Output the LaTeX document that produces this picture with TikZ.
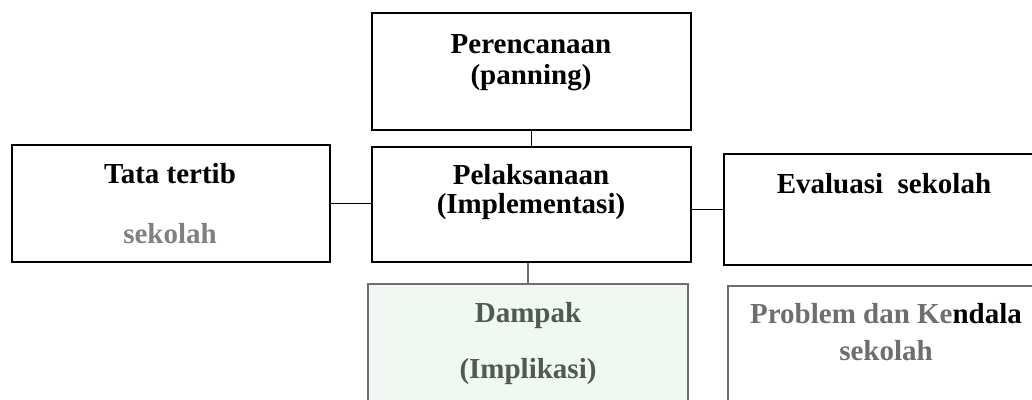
\documentclass[tikz,border=0pt]{standalone}
\usepackage{fontspec}
\setmainfont{Liberation Serif}
\definecolor{lowgray}{HTML}{6E6E6E}
\definecolor{midgray}{HTML}{808080}
\definecolor{dgreen}{HTML}{4E5B53}
\definecolor{mint}{HTML}{F1F7F3}
\begin{document}
\begin{tikzpicture}[x=1pt,y=-1pt,
  box/.style={draw=black,line width=1.5pt,inner sep=0pt},
  lowbox/.style={draw=lowgray,line width=1.5pt,inner sep=0pt},
  conn/.style={draw=black,line width=1.5pt},
  lbl/.style={anchor=base,inner sep=0pt,font=\fontsize{29}{32}\selectfont\bfseries}]
\useasboundingbox (0,0) rectangle (1032,399);
\clip (0,0) rectangle (1032,399);
% boxes
\node[box,minimum width=319pt,minimum height=117pt] (plan) at (531.5,71.5) {};
\node[box,minimum width=319pt,minimum height=115pt] (exec) at (531.5,204.5) {};
\node[box,minimum width=318pt,minimum height=117pt] (rules) at (171,203.5) {};
\node[box,minimum width=330pt,minimum height=111pt] (eval) at (889,209.5) {};
\node[lowbox,fill=mint,minimum width=320pt,minimum height=140pt] (impact) at (528,354) {};
\node[lowbox,minimum width=330pt,minimum height=140pt] (prob) at (893,356) {};
% connectors
\draw[conn] (plan.south) -- (exec.north);
\draw[conn] (rules.east) -- (rules.east -| exec.west);
\draw[conn] (eval.west) -- (eval.west -| exec.east);
\draw[conn,draw=lowgray] (exec.south -| impact.north) -- (impact.north);
% labels
\node[lbl] (t1) at (531,53) {Perencanaan};
\node[lbl] (t2) at (531,84) {(panning)};
\node[lbl] (t3) at (531,184) {Pelaksanaan};
\node[lbl] (t4) at (531,213) {(Implementasi)};
\node[lbl] (t5) at (170,183) {Tata tertib};
\node[lbl,text=midgray] (t6) at (170,243) {sekolah};
\node[lbl] (t7) at (884,193) {Evaluasi\ \ sekolah};
\node[lbl,text=dgreen] (t8) at (528,322) {Dampak};
\node[lbl,text=dgreen] (t9) at (528,378) {(Implikasi)};
\node[lbl,text=lowgray] (t10) at (886,323) {Problem dan Ke\textcolor{black}{ndala}};
\node[lbl,text=lowgray] (t11) at (886,360) {sekolah};
\end{tikzpicture}
\end{document}
